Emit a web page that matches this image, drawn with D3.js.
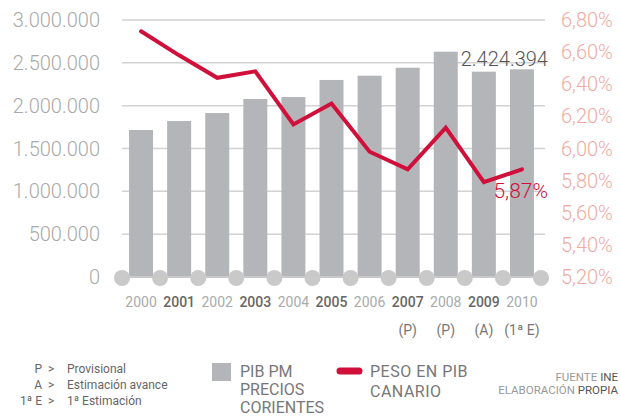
<!DOCTYPE html>
<html><head><meta charset="utf-8">
<script src="https://cdn.jsdelivr.net/npm/d3@7"></script>
<style>
html,body{margin:0;padding:0;background:#fff;}
svg{display:block;font-family:Roboto,"Noto Sans",sans-serif;}
</style></head>
<body><svg id="c" width="620" height="418"></svg>
<script>
const years = ["2000","2001","2002","2003","2004","2005","2006","2007","2008","2009","2010"];
const yearNotes = ["","","","","","","","(P)","(P)","(A)","(1ª E)"];
const pibValues = [1716000,1821000,1914000,2078000,2101000,2300000,2350000,2443000,2630000,2397000,2424394];
const pesoValues = [6.73,6.58,6.44,6.48,6.15,6.28,5.98,5.87,6.13,5.79,5.87];
const leftTicks = [0,500000,1000000,1500000,2000000,2500000,3000000];
const rightTicks = [5.2,5.4,5.6,5.8,6.0,6.2,6.4,6.6,6.8];
const legendNotes = [["P","Provisional"],["A","Estimación avance"],["1ª E","1ª Estimación"]];

const loc = d3.formatLocale({decimal:",",thousands:".",grouping:[3],currency:["","€"]});
const fmtInt = loc.format(",.0f");
const fmtPct = v => loc.format(".2f")(v) + "%";

const svg = d3.select("#c");
const x = d3.scaleBand().domain(years).range([122,541]).paddingInner(0.37).paddingOuter(0.185);
const yL = d3.scaleLinear().domain([0,3000000]).range([277,20]);
const yR = d3.scaleLinear().domain([5.2,6.8]).range([277,20]);
const bw = x.bandwidth(), step = x.step();
const cx = d => x(d) + bw/2;

// gridlines
svg.append("g").selectAll("line").data(leftTicks.filter(d=>d>0)).join("line")
  .attr("x1",122).attr("x2",545).attr("y1",d=>yL(d)).attr("y2",d=>yL(d))
  .attr("stroke","#d2d2d2").attr("stroke-width",1.5);

// left axis labels
svg.append("g").selectAll("text").data(leftTicks).join("text")
  .attr("x",100).attr("y",d=>yL(d)).attr("dy","0.35em").attr("text-anchor","end")
  .attr("font-size",20).attr("font-weight",300).attr("fill","#a9a9a9").text(d=>fmtInt(d));

// right axis labels
svg.append("g").selectAll("text").data(rightTicks).join("text")
  .attr("x",561).attr("y",d=>yR(d)).attr("dy","0.35em").attr("text-anchor","start")
  .attr("font-size",20).attr("font-weight",300).attr("fill","#f1aaa2").text(d=>fmtPct(d));

// bars
svg.append("g").selectAll("rect").data(years).join("rect")
  .attr("x",d=>x(d)).attr("width",bw)
  .attr("y",(d,i)=>yL(pibValues[i])).attr("height",(d,i)=>yL(0)-yL(pibValues[i]))
  .attr("fill","#b4b5b8");

// baseline + circles
const bounds = years.map(d=>cx(d)-step/2).concat([cx(years[years.length-1])+step/2]);
svg.append("line").attr("x1",bounds[0]).attr("x2",bounds[bounds.length-1])
  .attr("y1",yL(0)).attr("y2",yL(0)).attr("stroke","#c9c9c9").attr("stroke-width",2);
svg.append("g").selectAll("circle").data(bounds).join("circle")
  .attr("cx",d=>d).attr("cy",yL(0)+1).attr("r",8).attr("fill","#c9c9ca");

// value labels
const last = years.length-1;
svg.append("text").attr("x",x(years[last])+bw+14).attr("y",yL(pibValues[last])-3)
  .attr("text-anchor","end").attr("font-size",20).attr("font-weight",300).attr("fill","#555")
  .text(fmtInt(pibValues[last]));
svg.append("text").attr("x",x(years[last])+bw+14).attr("y",yR(pesoValues[last])+29)
  .attr("text-anchor","end").attr("font-size",21).attr("font-weight",300).attr("fill","#d0103a")
  .text(fmtPct(pesoValues[last]));

// line
const line = d3.line().x((d,i)=>cx(years[i])).y(d=>yR(d));
svg.append("path").datum(pesoValues).attr("d",line).attr("fill","none")
  .attr("stroke","#d0103a").attr("stroke-width",4).attr("stroke-linejoin","miter").attr("stroke-linecap","round");

// year labels
svg.append("g").selectAll("text").data(years).join("text")
  .attr("x",d=>cx(d)).attr("y",307).attr("text-anchor","middle").attr("font-size",14)
  .attr("fill",(d,i)=>i%2?"#666":"#aaa").attr("font-weight",(d,i)=>i%2?500:400).text(d=>d);
svg.append("g").selectAll("text").data(years).join("text")
  .attr("x",d=>cx(d)).attr("y",335).attr("text-anchor","middle").attr("font-size",14)
  .attr("fill","#777").text((d,i)=>yearNotes[i]);

// legend notes
const ln = svg.append("g").attr("font-size",12).attr("fill","#666");
legendNotes.forEach((n,i)=>{
  const yy = 373 + i*16;
  ln.append("text").attr("x",42).attr("y",yy).attr("text-anchor","end").text(n[0]);
  ln.append("text").attr("x",48).attr("y",yy).text(">");
  ln.append("text").attr("x",67).attr("y",yy).text(n[1]);
});

// series legend
svg.append("rect").attr("x",212).attr("y",363).attr("width",19).attr("height",18).attr("fill","#b4b5b8");
["PIB PM","PRECIOS","CORIENTES"].forEach((t,i)=>svg.append("text").attr("x",240).attr("y",377+i*18)
  .attr("font-size",16).attr("fill","#777").text(t));
svg.append("line").attr("x1",340).attr("x2",359).attr("y1",371).attr("y2",371)
  .attr("stroke","#d0103a").attr("stroke-width",7).attr("stroke-linecap","round");
["PESO EN PIB","CANARIO"].forEach((t,i)=>svg.append("text").attr("x",370).attr("y",377+i*20)
  .attr("font-size",16).attr("letter-spacing",0.5).attr("fill","#777").text(t));

// source
const s1 = svg.append("text").attr("x",618).attr("y",381).attr("text-anchor","end").attr("font-size",11.5);
s1.append("tspan").attr("fill","#999").text("FUENTE ");
s1.append("tspan").attr("fill","#555").text("INE");
const s2 = svg.append("text").attr("x",618).attr("y",394).attr("text-anchor","end").attr("font-size",11.5);
s2.append("tspan").attr("fill","#999").text("ELABORACIÓN ");
s2.append("tspan").attr("fill","#555").text("PROPIA");
</script></body></html>
